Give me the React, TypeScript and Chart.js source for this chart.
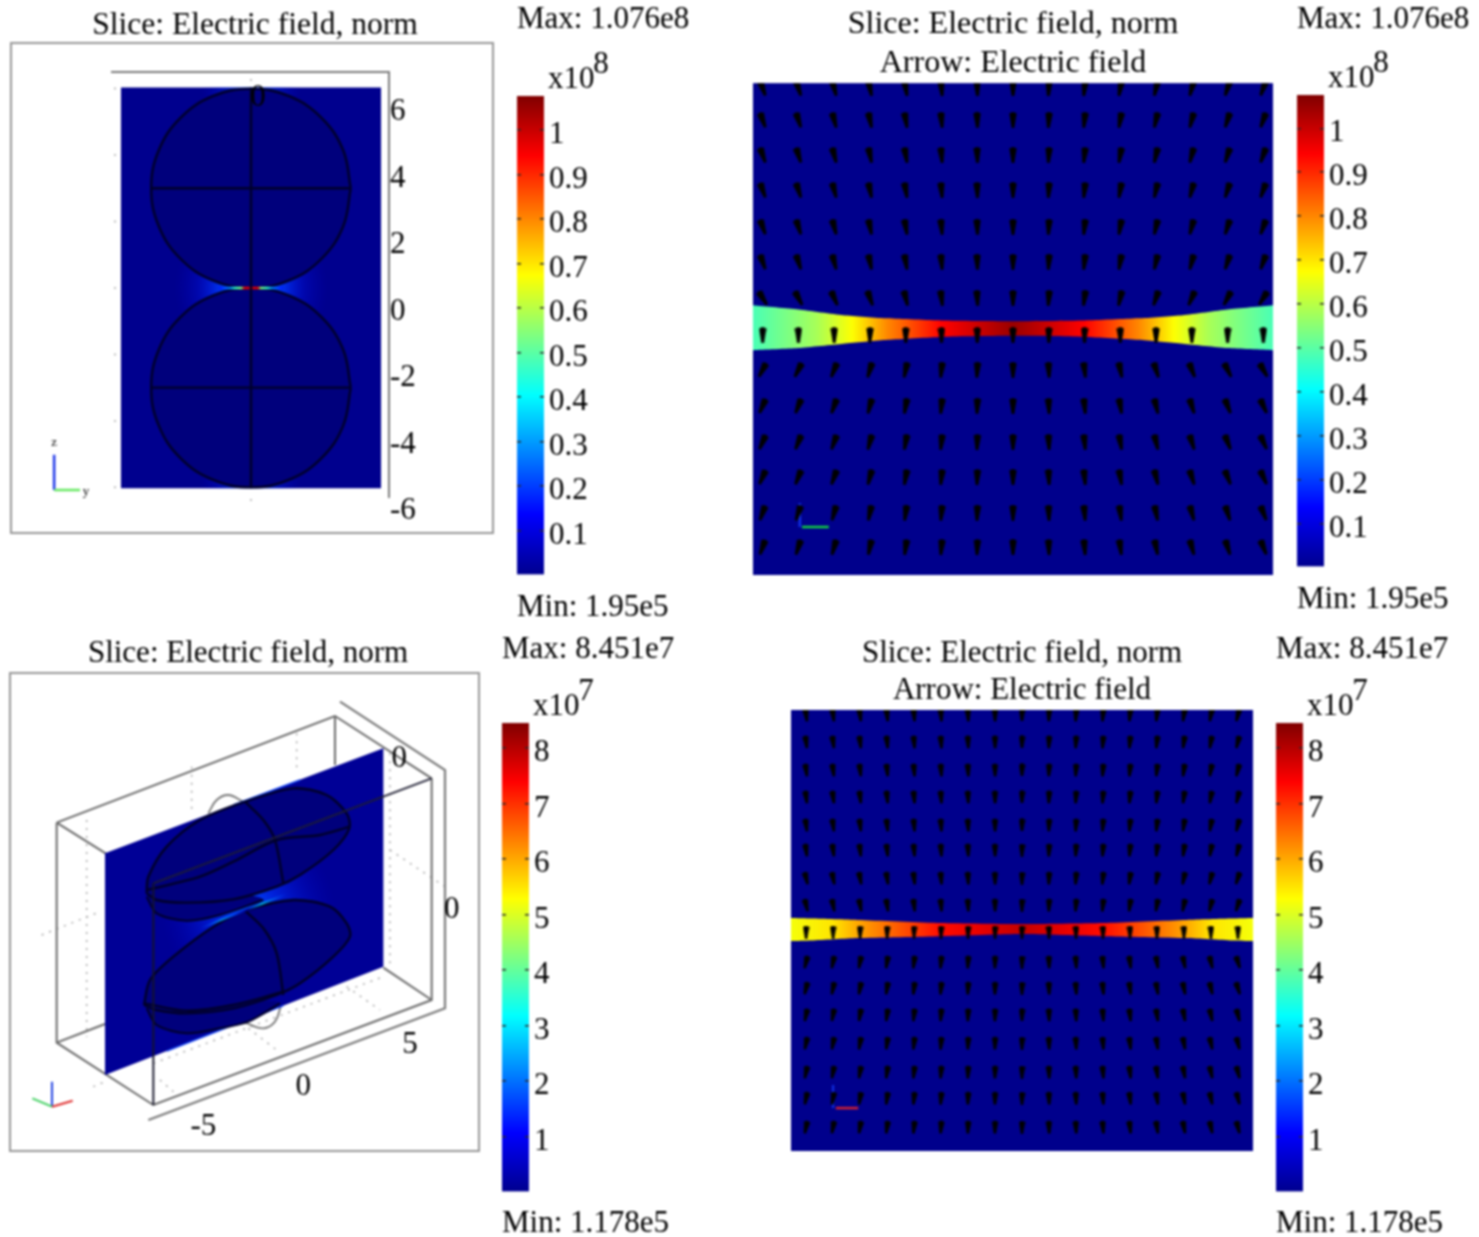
import React, { useEffect, useRef } from "react";
import { Chart, registerables } from "chart.js";

Chart.register(...registerables);

const SERIF = '"Liberation Serif"';
const FS = 31;
const INK = "#000000";
const BOX = "#7a7a7a";
const WIRE = "#000028";

/* ---------- colour bar data ---------- */
const bar1Ticks = [0.1, 0.2, 0.3, 0.4, 0.5, 0.6, 0.7, 0.8, 0.9, 1];
const bar3Ticks = [1, 2, 3, 4, 5, 6, 7, 8];
const fieldRange1 = [0.00195, 1.076];
const fieldRange2 = [0.01178, 8.451];

/* ---------- panel 1 : y-z slice through two spheres ---------- */
const p1Sheet = [[-3.91, 6.03], [3.91, 6.03], [3.91, -6.03], [-3.91, -6.03], [-3.91, 6.03]];
const p1UpperSphere = [[3, 3], [2.77, 4.15], [2.12, 5.12], [1.15, 5.77], [0, 6], [-1.15, 5.77], [-2.12, 5.12], [-2.77, 4.15], [-3, 3], [-2.77, 1.85], [-2.12, 0.88], [-1.15, 0.23], [0, 0], [1.15, 0.23], [2.12, 0.88], [2.77, 1.85], [3, 3]];
const p1LowerSphere = [[3, -3], [2.77, -1.85], [2.12, -0.88], [1.15, -0.23], [0, 0], [-1.15, -0.23], [-2.12, -0.88], [-2.77, -1.85], [-3, -3], [-2.77, -4.15], [-2.12, -5.12], [-1.15, -5.77], [0, -6], [1.15, -5.77], [2.12, -5.12], [2.77, -4.15], [3, -3]];
const p1UpperEquator = [[-3, 3], [3, 3]];
const p1LowerEquator = [[-3, -3], [3, -3]];
const p1Axis = [[0, 6.03], [0, -6.03]];
const p1Neck = [[-0.95, 0], [0.95, 0]];
const p1NeckStations = [-0.95, -0.62, -0.48, -0.3, -0.2, 0.2, 0.3, 0.48, 0.62, 0.95];
const p1NeckValues = [0.14, 0.26, 0.42, 0.5, 0.9, 0.9, 0.5, 0.42, 0.26, 0.14];
const p1YTicks = [-6, -4, -2, 0, 2, 4, 6];
const p1Dots = [[-4.09, 6], [-4.09, 4], [-4.09, 2], [-4.09, 0], [-4.09, -2], [-4.09, -4], [-4.09, -6], [0, -6.38], [0, 6.26]];
const p1TriadZ = [[-5.92, -5.02], [-5.92, -6.08]];
const p1TriadY = [[-5.92, -6.08], [-5.14, -6.08]];
const p1Labels = [
  { text: "0", x: 0.21, y: 5.72 },
  { text: "y", x: -4.96, y: -6.13, size: 13 },
  { text: "z", x: -5.92, y: -4.66, size: 13 },
];

/* ---------- panel 2 : zoom of the gap with arrows ---------- */
const p2Cols = [-7, -6, -5, -4, -3, -2, -1, 0, 1, 2, 3, 4, 5, 6, 7];
const p2Rows = [6.71, 5.82, 4.84, 3.86, 2.83, 1.85, 0.84, -0.2, -1.17, -2.18, -3.19, -4.17, -5.17, -6.13];
const p2Far = [-20, -18, -15, -12, -10, -5, -2, 0, 3, 6, 10, 13, 15, 18, 20];
const p2Near = [-32, -28, -24, -20, -14, -7, -3, 0, 4, 8, 13, 19, 24, 28, 32];
const p2Band = [0, 0, 0, 1, 0, 0, 0, 0, 0, 0, 0, 0, 0, 0, 0];
const p2BelowNear = [28, 27, 22, 17, 12, 6, 3, 0, -3, -7, -12, -18, -22, -27, -30];
const p2BelowMid = [24, 22, 20, 15, 10, 6, 2, 0, -3, -6, -10, -14, -18, -22, -25];
const p2BelowFar = [20, 18, 16, 12, 8, 5, 2, 0, -2, -5, -8, -12, -16, -18, -22];
const p2Angles = [p2Far, p2Far, p2Far, p2Far, p2Far, p2Far, p2Near, p2Band, p2BelowNear, p2BelowMid, p2BelowMid, p2BelowMid, p2BelowFar, p2BelowFar];
const p2BandX = [-7.27, -6, -4.75, -3.5, -2, 0, 2, 3.5, 4.75, 6, 7.27];
const p2BandTop = [0.64, 0.52, 0.36, 0.27, 0.21, 0.19, 0.21, 0.27, 0.36, 0.52, 0.64];
const p2BandBottom = [-0.62, -0.56, -0.44, -0.33, -0.25, -0.22, -0.25, -0.33, -0.44, -0.56, -0.62];
const p2FieldX = [-7.27, -5.5, -4.5, -3.5, -2, 0, 2, 3.5, 4.5, 5.5, 7.27];
const p2FieldV = [0.48, 0.58, 0.67, 0.8, 0.94, 1.05, 0.94, 0.8, 0.67, 0.58, 0.48];
const p2TriadZ = [[-5.96, -4.9], [-5.96, -5.57]];
const p2TriadY = [[-5.9, -5.57], [-5.15, -5.57]];

/* ---------- panel 3 : oblique view, projected plane units ---------- */
const p3BoxBack = [[170, 458], [1005, 138], [1295, 325]];
const p3BoxLeft = [[170, 458], [170, 1118], [460, 1305], [1295, 990], [1295, 325]];
const p3BoxTopLeft = [[170, 458], [460, 640]];
const p3BoxFloorBack = [[170, 1118], [315, 1062]];
const p3BoxFloorRight = [[1150, 893], [1295, 990]];
const p3BoxBackPost = [[1005, 138], [1005, 285]];
const p3BoxFrontTop = [[460, 640], [1295, 325]];
const p3BoxFrontPost = [[460, 640], [460, 1305]];
const p3OuterAxis = [[1020, 95], [1335, 300], [1335, 1015], [445, 1350]];
const p3Sheet = [[315, 550], [1150, 235], [1150, 890], [315, 1215], [315, 550]];
const p3UpperOutline = [[440, 670], [445, 620], [500, 530], [600, 450], [735, 395], [880, 355], [980, 375], [1040, 430], [1048, 475], [1000, 540], [900, 615], [830, 650], [700, 688], [560, 698], [470, 690], [440, 670]];
const p3LowerOutline = [[432, 1005], [450, 930], [520, 860], [640, 770], [735, 722], [880, 690], [990, 710], [1040, 760], [1050, 800], [1000, 860], [900, 940], [830, 975], [700, 1015], [560, 1030], [470, 1020], [432, 1005]];
const p3UpperShadow = [[440, 680], [470, 730], [560, 752], [660, 735], [790, 690], [700, 670], [500, 670], [440, 680]];
const p3LowerShadow = [[440, 1015], [470, 1065], [560, 1090], [660, 1075], [745, 1055], [840, 1000], [700, 990], [500, 1000], [440, 1015]];
const p3UpperEquator = [[440, 660], [600, 620], [700, 575], [830, 510], [960, 495], [1050, 470]];
const p3LowerEquator = [[432, 1000], [560, 1022], [700, 1005], [850, 965]];
const p3UpperMeridian = [[735, 395], [790, 450], [825, 510], [850, 640]];
const p3LowerMeridian = [[735, 722], [790, 775], [830, 850], [850, 975]];
const p3UpperBump = [[625, 430], [650, 390], [685, 375], [730, 395]];
const p3LowerBump = [[735, 1058], [790, 1075], [825, 1055], [842, 1010]];
const p3NeckLine = [[600, 775], [860, 672]];
const p3EdgeGlowTop = [[700, 405], [900, 330]];
const p3EdgeGlowBottom = [[500, 1143], [850, 1007]];
const p3DottedWall = [[[260, 450], [260, 1100]], [[575, 290], [575, 430]], [[890, 190], [890, 300]], [[125, 795], [300, 725]], [[1170, 540], [1335, 650]], [[280, 1250], [315, 1235]], [[460, 1180], [1150, 920]], [[745, 1075], [830, 1140]], [[1040, 950], [1140, 1020]], [[480, 1230], [520, 1265]], [[1170, 250], [1170, 890]]];
const p3TriadZ = [[156, 1310], [156, 1235]];
const p3TriadY = [[156, 1310], [97, 1285]];
const p3TriadX = [[156, 1310], [218, 1292]];
const p3TickLabels = [
  { text: "0", x: 1198, y: 268 },
  { text: "0", x: 1355, y: 721 },
  { text: "5", x: 1230, y: 1126 },
  { text: "0", x: 910, y: 1251 },
  { text: "-5", x: 610, y: 1371 },
];

/* ---------- panel 4 : narrower gap with arrows ---------- */
const p4Cols = [-8, -7, -6, -5, -4, -3, -2, -1, 0, 1, 2, 3, 4, 5, 6, 7, 8];
const p4Rows = [7.8, 6.82, 5.8, 4.82, 3.8, 2.89, 1.87, 0.89, -0.09, -1.18, -2.13, -3.1, -4.13, -5.18, -6.13, -7.18];
const p4Far = [-8, -8, -7, -6, -5, -4, -3, -1, 0, 2, 3, 4, 5, 6, 8, 10, 14];
const p4Near = [-14, -12, -11, -9, -7, -5, -3, -1, 0, 2, 4, 6, 8, 10, 12, 14, 18];
const p4Band = [0, 0, 0, 0, 0, 0, 0, 0, 0, 0, 0, 0, 0, 0, 0, 0, 0];
const p4BelowNear = [14, 12, 11, 9, 7, 5, 3, 1, 0, -2, -4, -6, -8, -10, -12, -14, -18];
const p4BelowFar = [12, 11, 10, 8, 6, 4, 2, 1, 0, -2, -3, -5, -7, -9, -11, -13, -15];
const p4Angles = [p4Far, p4Far, p4Far, p4Far, p4Far, p4Far, p4Near, p4Near, p4Band, p4BelowNear, p4BelowNear, p4BelowFar, p4BelowFar, p4BelowFar, p4BelowFar, p4BelowFar];
const p4BandX = [-8.56, -7.8, -6.1, -3, 0, 3, 6.1, 7.8, 8.56];
const p4BandTop = [0.42, 0.4, 0.35, 0.24, 0.2, 0.24, 0.35, 0.4, 0.42];
const p4BandBottom = [-0.42, -0.4, -0.31, -0.24, -0.16, -0.24, -0.31, -0.4, -0.42];
const p4FieldX = [-8.56, -7, -6.1, -4.5, -3, -1.5, 0, 1.5, 3, 4.5, 6.1, 7, 8.56];
const p4FieldV = [5.2, 5.5, 6.0, 6.7, 7.3, 7.6, 7.9, 7.6, 7.3, 6.7, 6.0, 5.5, 5.2];
const p4TriadZ = [[-7, -5.65], [-7, -6.49]];
const p4TriadX = [[-6.9, -6.49], [-6.07, -6.49]];

/* ---------- colour helpers ---------- */
const JET: [number, number[]][] = [
  [0, [0, 0, 143]], [0.125, [0, 0, 255]], [0.375, [0, 255, 255]],
  [0.625, [255, 255, 0]], [0.875, [255, 0, 0]], [1, [128, 0, 0]],
];
function jet(f: number): string {
  const v = Math.min(1, Math.max(0, f));
  for (let i = 1; i < JET.length; i++) {
    if (v <= JET[i][0]) {
      const [a, ca] = JET[i - 1];
      const [b, cb] = JET[i];
      const t = (v - a) / (b - a);
      const c = ca.map((q, k) => Math.round(q + (cb[k] - q) * t));
      return `rgb(${c[0]},${c[1]},${c[2]})`;
    }
  }
  return "rgb(128,0,0)";
}

function fieldGradient(xs: number[], vs: number[], maxV: number) {
  return (c: any) => {
    const chart = c.chart;
    if (!chart.chartArea) return "#000080";
    const sx = chart.scales.x;
    const l = sx.getPixelForValue(xs[0]);
    const r = sx.getPixelForValue(xs[xs.length - 1]);
    const g = chart.ctx.createLinearGradient(l, 0, r, 0);
    xs.forEach((x, i) => g.addColorStop((sx.getPixelForValue(x) - l) / (r - l), jet(vs[i] / maxV)));
    return g;
  };
}

function radial(cx: number, cy: number, rUnits: number, stops: [number, string][]) {
  return (c: any) => {
    const chart = c.chart;
    if (!chart.chartArea) return "rgba(0,0,0,0)";
    const sx = chart.scales.x;
    const px = sx.getPixelForValue(cx);
    const py = chart.scales.y.getPixelForValue(cy);
    const r = Math.abs(sx.getPixelForValue(cx + rUnits) - px);
    const g = chart.ctx.createRadialGradient(px, py, 0, px, py, r);
    stops.forEach(([o, col]) => g.addColorStop(o, col));
    return g;
  };
}

/* ---------- dataset helpers ---------- */
const xy = (pts: number[][]) => pts.map(([x, y]) => ({ x, y }));
const path = (pts: number[][], color: any, width = 1.5, extra: any = {}) => ({
  data: xy(pts), showLine: true, borderColor: color, borderWidth: width, pointRadius: 0, fill: false, ...extra,
});
const shape = (pts: number[][], color: any, extra: any = {}) => ({
  data: xy(pts), showLine: true, borderWidth: 0, borderColor: "rgba(0,0,0,0)", pointRadius: 0, fill: "shape", backgroundColor: color, ...extra,
});

function wedge(w: number, h: number) {
  const cv = document.createElement("canvas");
  cv.width = w;
  cv.height = h;
  const x = cv.getContext("2d")!;
  x.fillStyle = "#000000";
  x.beginPath();
  x.moveTo(0.3, 1.5);
  x.quadraticCurveTo(w / 2, -1.5, w - 0.3, 1.5);
  x.lineTo(w * 0.66, h);
  x.lineTo(w * 0.34, h);
  x.closePath();
  x.fill();
  return cv;
}

function arrowSet(cols: number[], rows: number[], angles: number[][], glyph: HTMLCanvasElement) {
  const data: { x: number; y: number }[] = [];
  const rotation: number[] = [];
  rows.forEach((y, r) => cols.forEach((x, c) => {
    data.push({ x, y });
    rotation.push(angles[r][c]);
  }));
  return { data, showLine: false, pointStyle: glyph, pointRadius: 3, pointRotation: rotation, rotation };
}

/* ---------- plugins ---------- */
const notes = (items: { text: string; x: number; y: number; size?: number }[]) => ({
  id: "notes",
  afterDatasetsDraw(chart: any) {
    const { ctx, scales } = chart;
    ctx.save();
    ctx.fillStyle = INK;
    ctx.textAlign = "center";
    ctx.textBaseline = "middle";
    items.forEach((n) => {
      ctx.font = `${n.size ?? FS}px ${SERIF}`;
      ctx.fillText(n.text, scales.x.getPixelForValue(n.x), scales.y.getPixelForValue(n.y));
    });
    ctx.restore();
  },
});

const exponent = (power: string) => ({
  id: "exponent",
  afterDraw(chart: any) {
    const { ctx, chartArea } = chart;
    ctx.save();
    ctx.fillStyle = INK;
    ctx.textBaseline = "middle";
    ctx.textAlign = "left";
    ctx.font = `${FS}px ${SERIF}`;
    ctx.fillText("x10", chartArea.right + 4, chartArea.top - 16);
    ctx.textAlign = "center";
    ctx.fillText(power, chartArea.right + 57, chartArea.top - 31);
    ctx.restore();
  },
});

/* ---------- chart builders ---------- */
const font = { family: SERIF, size: FS, weight: "normal" as const, lineHeight: 1.2 };
const hidden = (min: number, max: number, reverse = false) => ({ type: "linear", display: false, min, max, reverse });
const base = {
  responsive: false, animation: false, events: [] as string[],
  layout: { autoPadding: false },
  plugins: { legend: { display: false }, tooltip: { enabled: false } },
};

function colorbar(range: number[], ticks: number[], maxText: string, minText: string, power: string, gapTop: number, gapBottom: number) {
  return {
    type: "bar",
    data: {
      labels: [""],
      datasets: [{
        data: [range], barPercentage: 1, categoryPercentage: 1, borderWidth: 0,
        backgroundColor: (c: any) => {
          const chart = c.chart;
          if (!chart.chartArea) return "#000080";
          const { top, bottom } = chart.chartArea;
          const g = chart.ctx.createLinearGradient(0, bottom, 0, top);
          JET.forEach(([o]) => g.addColorStop(o, jet(o)));
          return g;
        },
      }],
    },
    options: {
      ...base,
      plugins: {
        ...base.plugins,
        title: { display: true, text: maxText, align: "start", color: INK, font, padding: { top: 0, bottom: gapTop } },
        subtitle: { display: true, text: minText, position: "bottom", align: "start", color: INK, font, padding: { top: gapBottom, bottom: 0 } },
      },
      scales: {
        x: { display: false },
        y: {
          position: "right", min: range[0], max: range[1],
          afterBuildTicks: (s: any) => { s.ticks = ticks.map((value) => ({ value })); },
          afterFit: (s: any) => { s.width = 153; },
          ticks: { color: INK, font, padding: 5, labelOffset: 5, autoSkip: false, callback: (v: any) => String(v) },
          grid: { color: "#2a2a2a", z: 1, drawTicks: false, tickLength: 0, lineWidth: 1.5 },
          border: { display: false, dash: [4, 19, 4, 0] },
        },
      },
    },
    plugins: [exponent(power)],
  };
}

function panel1() {
  const sets = [
    shape(p1Sheet, "#00008e"),
    shape(p1Sheet, radial(0, 0, 2.3, [[0, "rgba(0,120,255,1)"], [0.4, "rgba(0,60,255,0.85)"], [0.7, "rgba(0,20,230,0.35)"], [1, "rgba(0,0,200,0)"]])),
    shape(p1Sheet, radial(0, 6.03, 1.5, [[0, "rgba(0,80,255,1)"], [1, "rgba(0,0,200,0)"]])),
    shape(p1Sheet, radial(0, -6.03, 1.5, [[0, "rgba(0,80,255,1)"], [1, "rgba(0,0,200,0)"]])),
    shape(p1UpperSphere, "#00007c", { tension: 0.4 }),
    shape(p1LowerSphere, "#00007c", { tension: 0.4 }),
    path(p1UpperSphere, WIRE, 2.4, { tension: 0.4 }),
    path(p1LowerSphere, WIRE, 2.4, { tension: 0.4 }),
    path(p1UpperEquator, WIRE, 2.4),
    path(p1LowerEquator, WIRE, 2.4),
    path(p1Neck, fieldGradient(p1NeckStations, p1NeckValues, 1), 2.6),
    path(p1Axis, WIRE, 2.4),
    { data: xy(p1Dots), showLine: false, pointRadius: 1, pointBackgroundColor: "#aaa", pointBorderWidth: 0, clip: false },
    path(p1TriadZ, "#1c35e8", 2.5, { clip: false }),
    path(p1TriadY, "#66e860", 2.5, { clip: false }),
  ].reverse();
  return {
    type: "scatter",
    data: { datasets: sets },
    options: {
      ...base,
      layout: { autoPadding: false, padding: { bottom: 43 } },
      plugins: {
        ...base.plugins,
        title: { display: true, text: "Slice: Electric field, norm", color: INK, font: { ...font, size: 31.5, lineHeight: 1.18 }, padding: { top: 0, bottom: 27.8 } },
      },
      scales: {
        x: {
          type: "linear", position: "top", min: -4.18, max: 4.15,
          afterFit: (s: any) => { s.height = 0; },
          ticks: { display: false },
          grid: { display: false, drawTicks: false },
          border: { color: BOX, width: 2 },
        },
        y: {
          type: "linear", position: "right", min: -6.29, max: 6.5,
          afterBuildTicks: (s: any) => { s.ticks = p1YTicks.map((value) => ({ value })); },
          afterFit: (s: any) => { s.width = 121; },
          ticks: { color: INK, font, padding: 1, labelOffset: 23.5, autoSkip: false },
          grid: { display: false, drawTicks: false },
          border: { color: BOX, width: 2 },
        },
        leftGutter: {
          type: "linear", position: "left", display: true,
          afterFit: (s: any) => { s.width = 112; },
          ticks: { display: false }, grid: { display: false, drawTicks: false }, border: { display: false },
        },
      },
    },
    plugins: [notes(p1Labels)],
  };
}

function fieldPanel(o: {
  titleGap: number; titleLead: number; titleSize: number; xMin: number; xMax: number; yMin: number; yMax: number;
  bandX: number[]; top: number[]; bottom: number[]; fieldX: number[]; fieldV: number[]; maxV: number;
  arrows: any; triads: any[];
}) {
  const grad = fieldGradient(o.fieldX, o.fieldV, o.maxV);
  const lower = { data: o.bandX.map((x, i) => ({ x, y: o.bottom[i] })), showLine: true, borderWidth: 0, pointRadius: 0, fill: false, tension: 0.2 };
  const upper = { data: o.bandX.map((x, i) => ({ x, y: o.top[i] })), showLine: true, borderWidth: 0, pointRadius: 0, fill: "+1", backgroundColor: grad, tension: 0.2 };
  return {
    type: "scatter",
    data: { datasets: [o.arrows, ...o.triads, upper, lower] },
    options: {
      ...base,
      plugins: {
        ...base.plugins,
        title: {
          display: true, text: ["Slice: Electric field, norm", "Arrow: Electric field"], color: INK,
          font: { ...font, size: o.titleSize, lineHeight: o.titleLead }, padding: { top: 0, bottom: o.titleGap },
        },
      },
      scales: { x: hidden(o.xMin, o.xMax), y: hidden(o.yMin, o.yMax) },
    },
  };
}

const fieldBg = {
  id: "fieldBg",
  beforeDatasetsDraw(chart: any) {
    const { ctx, chartArea: a } = chart;
    ctx.save();
    ctx.fillStyle = "#00008c";
    ctx.fillRect(a.left, a.top, a.width, a.height);
    ctx.restore();
  },
};

function panel2() {
  const cfg: any = fieldPanel({
    titleGap: 1, titleLead: 1.19, titleSize: 32, xMin: -7.27, xMax: 7.27, yMin: -6.91, yMax: 6.85,
    bandX: p2BandX, top: p2BandTop, bottom: p2BandBottom, fieldX: p2FieldX, fieldV: p2FieldV, maxV: 1.076,
    arrows: arrowSet(p2Cols, p2Rows, p2Angles, wedge(8, 16)),
    triads: [path(p2TriadZ, "#1030e8", 2.5), path(p2TriadY, "#10d040", 2.5)],
  });
  cfg.plugins = [fieldBg];
  return cfg;
}

function panel4() {
  const cfg: any = fieldPanel({
    titleGap: 0.6, titleLead: 1.2, titleSize: 31, xMin: -8.56, xMax: 8.56, yMin: -8.05, yMax: 7.98,
    bandX: p4BandX, top: p4BandTop, bottom: p4BandBottom, fieldX: p4FieldX, fieldV: p4FieldV, maxV: 8.451,
    arrows: arrowSet(p4Cols, p4Rows, p4Angles, wedge(7, 13)),
    triads: [path(p4TriadZ, "#1030e8", 2), path(p4TriadX, "#d02030", 2.5)],
  });
  cfg.plugins = [fieldBg];
  return cfg;
}

function panel3() {
  const edge = "#6a6a6a";
  const dotted = p3DottedWall.map((seg) => path(seg, "#a8a8a8", 1.5, { borderDash: [2, 6] }));
  const sets = [
    ...dotted,
    path(p3BoxBack, edge, 2),
    path(p3BoxLeft, edge, 2),
    path(p3BoxTopLeft, edge, 2),
    path(p3BoxFloorBack, edge, 2),
    path(p3BoxFloorRight, edge, 2),
    path(p3BoxBackPost, edge, 2),
    path(p3OuterAxis, BOX, 2.2),
    path(p3UpperBump, "#777", 1.8, { tension: 0.4 }),
    path(p3LowerBump, "#777", 1.8, { tension: 0.4 }),
    shape(p3Sheet, "#000096"),
    shape(p3Sheet, radial(745, 725, 260, [[0, "rgba(0,90,255,1)"], [0.35, "rgba(0,50,255,0.65)"], [1, "rgba(0,0,200,0)"]])),
    path(p3EdgeGlowTop, "#1040f0", 1.5),
    path(p3EdgeGlowBottom, "#1040f0", 1.5),
    shape(p3UpperShadow, "#00007c", { tension: 0.3 }),
    shape(p3LowerShadow, "#00007c", { tension: 0.3 }),
    shape(p3UpperOutline, "#00007c", { tension: 0.3 }),
    shape(p3LowerOutline, "#00007c", { tension: 0.3 }),
    path(p3UpperOutline, WIRE, 2.4, { tension: 0.3 }),
    path(p3LowerOutline, WIRE, 2.4, { tension: 0.3 }),
    path(p3UpperShadow.slice(0, 5), WIRE, 2, { tension: 0.3 }),
    path(p3LowerShadow.slice(0, 6), WIRE, 2, { tension: 0.3 }),
    path(p3UpperEquator, WIRE, 2.4, { tension: 0.3 }),
    path(p3LowerEquator, WIRE, 2.4, { tension: 0.3 }),
    path(p3UpperMeridian, WIRE, 2.4, { tension: 0.3 }),
    path(p3LowerMeridian, WIRE, 2.4, { tension: 0.3 }),
    path(p3NeckLine, (c: any) => {
      const chart = c.chart;
      if (!chart.chartArea) return "#0040ff";
      const sx = chart.scales.x;
      const g = chart.ctx.createLinearGradient(sx.getPixelForValue(600), 0, sx.getPixelForValue(860), 0);
      g.addColorStop(0, "rgba(0,60,255,0)");
      g.addColorStop(0.25, "#0090e0");
      g.addColorStop(0.4, "#0040ff");
      g.addColorStop(0.55, "#0000a0");
      g.addColorStop(0.72, "#00b0d0");
      g.addColorStop(1, "rgba(0,60,255,0)");
      return g;
    }, 2),
    path(p3BoxFrontTop, "rgba(30,30,50,0.95)", 2),
    path(p3BoxFrontPost, "rgba(20,20,40,0.95)", 2),
    path(p3TriadZ, "#2040e0", 2),
    path(p3TriadY, "#40d060", 2),
    path(p3TriadX, "#e03030", 2),
  ].reverse();
  return {
    type: "scatter",
    data: { datasets: sets },
    options: {
      ...base,
      plugins: {
        ...base.plugins,
        title: { display: true, text: "Slice: Electric field, norm", color: INK, font, padding: { top: 0, bottom: 0.8 } },
      },
      scales: { x: hidden(0, 1488), y: hidden(9, 1470, true) },
    },
    plugins: [notes(p3TickLabels)],
  };
}

/* ---------- layout ---------- */
function Canvas({ make, left, top, width, height }: any) {
  const ref = useRef<HTMLCanvasElement>(null);
  useEffect(() => {
    const chart = new Chart(ref.current as any, make());
    return () => chart.destroy();
  }, []);
  return <canvas ref={ref} width={width} height={height} style={{ position: "absolute", left, top, width, height }} />;
}

const frame = (left: number, top: number, w: number, h: number) => (
  <div style={{ position: "absolute", left, top, width: w, height: h, border: "2px solid #969696", boxSizing: "border-box" }} />
);

export default function App() {
  return (
    <div style={{ position: "absolute", left: 0, top: 0, width: 1479, height: 1237, background: "#fff", overflow: "hidden", filter: "blur(0.8px)" }}>
      {frame(10, 42, 484, 492)}
      {frame(9, 672, 471, 480)}
      <Canvas make={panel1} left={0} top={7} width={510} height={533} />
      <Canvas make={() => colorbar(fieldRange1, bar1Ticks, "Max: 1.076e8", "Min: 1.95e5", "8", 57.8, 14.4)} left={517} top={1} width={180} height={625} />
      <Canvas make={panel2} left={753} top={6} width={520} height={569} />
      <Canvas make={() => colorbar(fieldRange1, bar1Ticks, "Max: 1.076e8", "Min: 1.95e5", "8", 56.8, 14.4)} left={1297} top={1} width={180} height={617} />
      <Canvas make={panel3} left={0} top={635} width={496} height={525} />
      <Canvas make={() => colorbar(fieldRange2, bar3Ticks, "Max: 8.451e7", "Min: 1.178e5", "7", 54.8, 13.4)} left={502} top={631} width={180} height={611} />
      <Canvas make={panel4} left={791} top={635} width={462} height={516} />
      <Canvas make={() => colorbar(fieldRange2, bar3Ticks, "Max: 8.451e7", "Min: 1.178e5", "7", 54.8, 13.4)} left={1276} top={631} width={180} height={611} />
    </div>
  );
}
